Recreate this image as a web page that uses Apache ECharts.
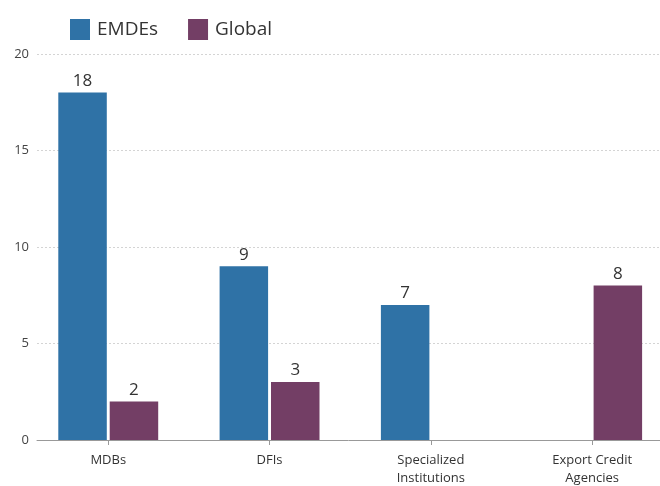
<!DOCTYPE html>
<html>
<head>
<meta charset="utf-8">
<script src="https://cdn.jsdelivr.net/npm/echarts@6/dist/echarts.min.js"></script>
<style>
  html, body { margin: 0; padding: 0; background: #fff; }
  #chart { width: 660px; height: 486px; }
</style>
</head>
<body>
<div id="chart"></div>
<script>
const categories = ['MDBs', 'DFIs', 'Specialized\nInstitutions', 'Export Credit\nAgencies'];
const emdes = [18, 9, 7, null];
const global = [2, 3, null, 8];
const yTicks = { min: 0, max: 20, interval: 5 };

const FONT = '"Open Sans", "Noto Sans", sans-serif';
const chart = echarts.init(document.getElementById('chart'), null, { renderer: 'canvas' });

chart.setOption({
  animation: false,
  textStyle: { fontFamily: FONT },
  legend: {
    left: 65,
    top: 14,
    itemWidth: 20,
    itemHeight: 21,
    itemGap: 30,
    icon: 'rect',
    textStyle: { fontSize: 19, color: '#333', fontFamily: FONT, padding: [0, 0, 0, 2] },
    data: ['EMDEs', 'Global']
  },
  grid: [
    // bars
    { left: 27.6, width: 645.2, top: 54, bottom: 46, outerBoundsMode: 'none', containLabel: false },
    // value scale, gridlines and baseline
    { left: 37, right: 0, top: 54, bottom: 46, outerBoundsMode: 'none', containLabel: false }
  ],
  xAxis: [
    {
      type: 'category',
      gridIndex: 0,
      data: categories,
      axisLine: { show: false },
      axisTick: { show: true, alignWithLabel: true, length: 5, lineStyle: { color: '#999' } },
      axisLabel: { fontSize: 13, color: '#333', margin: 11, lineHeight: 18, fontFamily: FONT }
    },
    {
      type: 'value',
      gridIndex: 1,
      min: 0,
      max: 1,
      axisLine: { show: true, lineStyle: { color: '#999', width: 1 } },
      axisTick: { show: false },
      axisLabel: { show: false },
      splitLine: { show: false }
    }
  ],
  yAxis: [
    {
      type: 'value',
      gridIndex: 0,
      min: yTicks.min,
      max: yTicks.max,
      interval: yTicks.interval,
      show: false
    },
    {
      type: 'value',
      gridIndex: 1,
      min: yTicks.min,
      max: yTicks.max,
      interval: yTicks.interval,
      axisLine: { show: false },
      axisTick: { show: false },
      axisLabel: { fontSize: 13, color: '#444', margin: 8, fontFamily: FONT },
      splitLine: { show: true, lineStyle: { color: '#d4d4d4', type: [2, 2], width: 1 } }
    }
  ],
  series: [
    {
      name: 'EMDEs',
      type: 'bar',
      xAxisIndex: 0,
      yAxisIndex: 0,
      data: emdes,
      barWidth: 48.5,
      barGap: '6%',
      itemStyle: { color: '#2f72a6' },
      label: { show: true, position: 'top', distance: 3, fontSize: 17, color: '#333', fontFamily: FONT }
    },
    {
      name: 'Global',
      type: 'bar',
      xAxisIndex: 0,
      yAxisIndex: 0,
      data: global,
      barWidth: 48.5,
      barGap: '6%',
      itemStyle: { color: '#733e65' },
      label: { show: true, position: 'top', distance: 3, fontSize: 17, color: '#333', fontFamily: FONT }
    }
  ]
});
</script>
</body>
</html>
